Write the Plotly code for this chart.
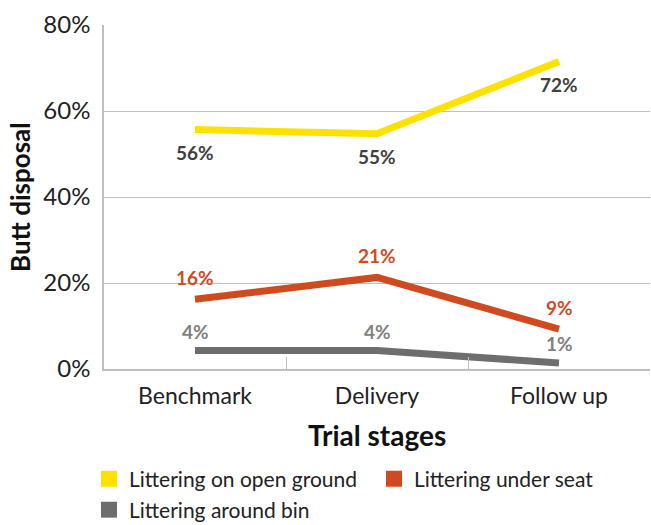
import plotly.graph_objects as go

# Data
stages = ["Benchmark", "Delivery", "Follow up"]
open_ground = [55.7, 54.7, 71.5]
under_seat = [16.2, 21.3, 9.3]
around_bin = [4.3, 4.3, 1.4]
y_ticks = [0, 20, 40, 60, 80]
y_ticklabels = ["0%", "20%", "40%", "60%", "80%"]

YELLOW = "#FFE100"
ORANGE = "#D04A1F"
GREY = "#6E6E6E"
FONT = "Lato"

# name, values, line colour, label colour, label shift, legend id, legend x/y (px)
series = [
    ("Littering on open ground", open_ground, YELLOW, "#404040", -23, "legend", 89, 479),
    ("Littering under seat", under_seat, ORANGE, ORANGE, 22, "legend2", 374, 479),
    ("Littering around bin", around_bin, GREY, "#7F7F7F", 19, "legend3", 89, 510),
]

fig = go.Figure()

# Lines (legend uses squares below)
for name, vals, col, lab_col, shift, leg, lx, ly in series:
    fig.add_trace(go.Scatter(
        x=stages, y=vals, mode="lines", name=name,
        line=dict(color=col, width=7),
        showlegend=False, hoverinfo="skip",
    ))

# square legend entries, one legend per item so they can sit in two columns
legends = {}
for name, vals, col, lab_col, shift, leg, lx, ly in series:
    fig.add_trace(go.Scatter(
        x=[None], y=[None], mode="markers", name=name, legend=leg,
        marker=dict(symbol="square", size=16, color=col),
    ))
    legends[leg] = dict(
        x=lx / 651, xref="container", xanchor="left",
        y=1 - ly / 525, yref="container", yanchor="middle",
        font=dict(family=FONT, size=21, color="#222222"),
        bgcolor="rgba(0,0,0,0)",
    )

# data labels
for name, vals, col, lab_col, shift, leg, lx, ly in series:
    for s, v in zip(stages, vals):
        fig.add_annotation(
            x=s, y=v, text=f"{round(v)}%", showarrow=False,
            yshift=shift, font=dict(family=FONT, size=19, color=lab_col, weight="bold"),
        )

# axis titles
fig.add_annotation(
    text="<b>Trial stages</b>", xref="paper", yref="paper", x=0.5, y=0,
    yanchor="middle", yshift=-66, showarrow=False,
    font=dict(family=FONT, size=28, color="#111111"),
)
fig.add_annotation(
    text="<b>Butt disposal</b>", xref="paper", yref="paper", x=0, y=0.5,
    xanchor="center", xshift=-84, textangle=-90, showarrow=False,
    font=dict(family=FONT, size=26, color="#111111"),
)

fig.update_xaxes(
    type="category",
    range=[-0.5, 2.5],
    tickson="boundaries",
    ticks="inside",
    ticklen=12,
    tickcolor="#BFBFBF",
    showline=True,
    linecolor="#BFBFBF",
    linewidth=1.5,
    showgrid=False,
    automargin=False,
    ticklabelstandoff=6,
    tickfont=dict(family=FONT, size=23, color="#222222"),
)

fig.update_yaxes(
    range=[0, 80],
    tickvals=y_ticks,
    ticktext=y_ticklabels,
    showgrid=True,
    gridcolor="#BFBFBF",
    gridwidth=1.3,
    showline=True,
    linecolor="#BFBFBF",
    linewidth=1.5,
    zeroline=False,
    ticks="",
    automargin=False,
    ticklabelstandoff=7,
    tickfont=dict(family=FONT, size=24, color="#222222"),
)

fig.update_layout(
    width=651,
    height=525,
    template="simple_white",
    plot_bgcolor="white",
    paper_bgcolor="white",
    margin=dict(l=104, r=1, t=25, b=156, autoexpand=False),
    showlegend=True,
    **legends,
)

# page body has a default 8px margin, drop it so the chart sits at 0,0
fig.write_html("out.html", post_script="document.body.style.margin='0';",
               config={"displayModeBar": False})
